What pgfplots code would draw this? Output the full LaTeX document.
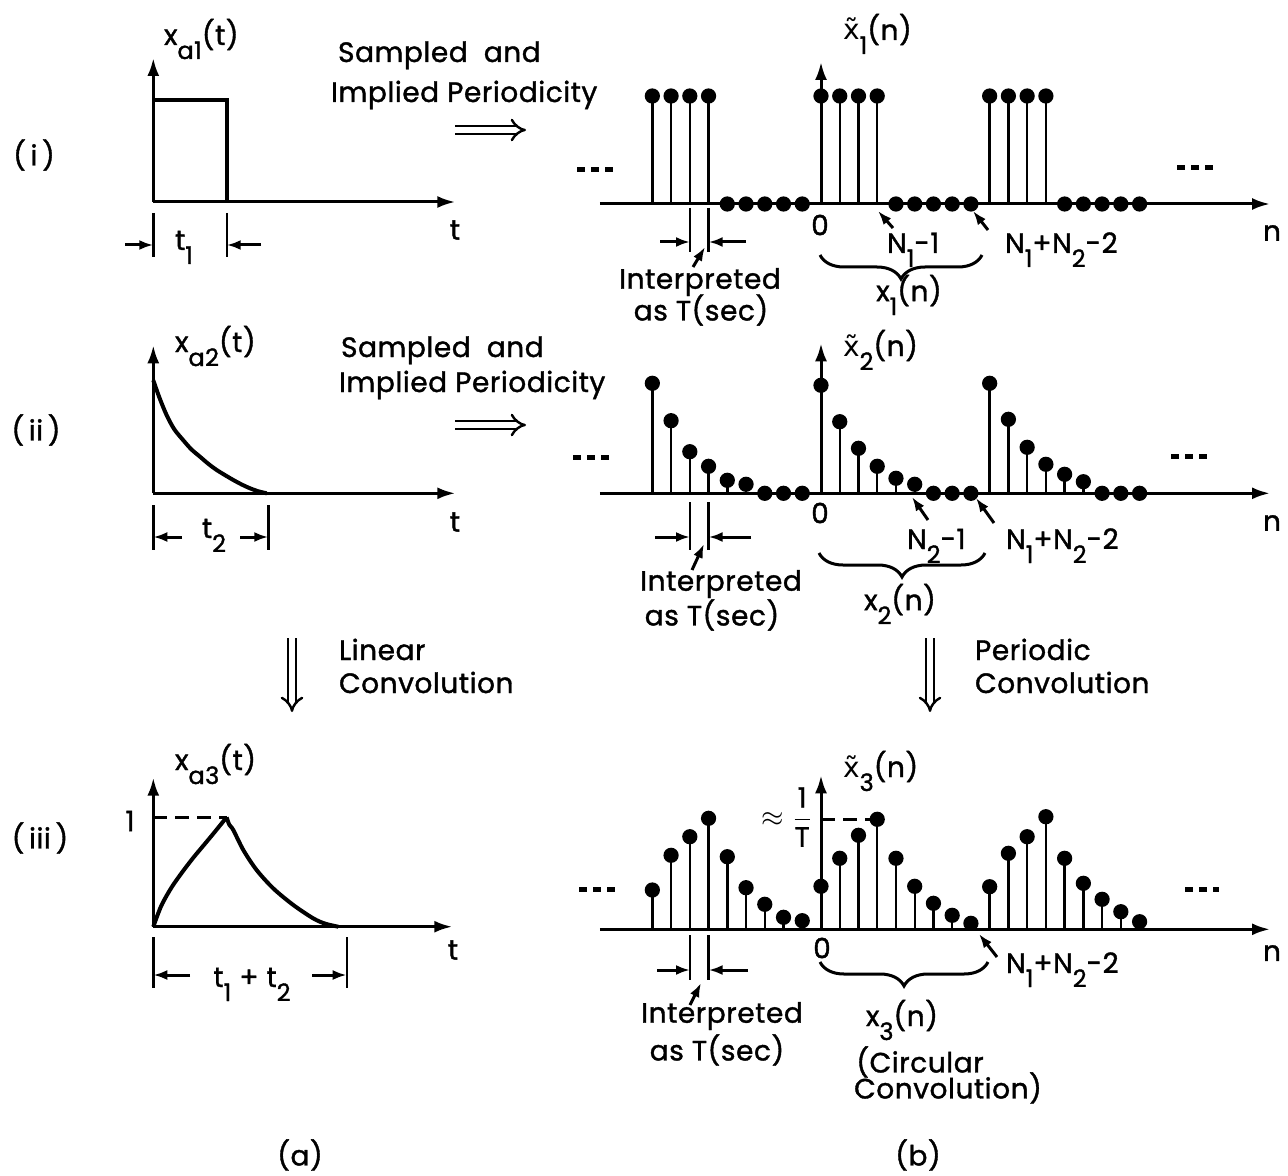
\documentclass[border=0pt]{standalone}
\usepackage{fontspec}
\setmainfont{Poppins}[UprightFeatures={FakeBold=1.3}, LetterSpace=2]
\newfontfamily\dejavu{DejaVu Sans}
\usepackage{pgfplots}
\pgfplotsset{compat=1.18}
\usetikzlibrary{arrows.meta,decorations.pathreplacing}

% lowered subscript, as in the lettering of the original
\newcommand\lo[1]{\raisebox{-0.5em}{\fontsize{12}{12}\selectfont #1}}
% x with a tilde (Poppins has no combining tilde, DejaVu Sans has)
\newcommand\xt{{\dejavu x^^^^0303}}

\pgfplotsset{
  sig/.style={
    axis lines=middle,
    anchor=south west,
    clip=false,
    xtick=\empty, ytick=\empty,
    axis line style={line width=1.5pt,-{Latex[length=9pt,width=6pt]}},
    y=0.5pt,
  },
  right sig/.style={sig, x=9.37pt, xmin=-11.8, xmax=23.96, ymin=0},
  left sig/.style={sig, x=0.5pt, xmin=0, ymin=0},
  stem/.style={ycomb, black, line width=1.2pt, mark=*, mark size=3.2pt,
    mark options={fill=black, solid}},
  curve/.style={black, line width=2pt, smooth, no marks},
}

\begin{document}
\begin{tikzpicture}[font=\fontsize{14}{16}\selectfont]
\useasboundingbox (0,0) rectangle (644pt,587.5pt);

% ---------- left column: analog signals ----------
\begin{axis}[left sig, at={(76.65pt,486.5pt)}, xmax=302, ymax=144]
  \addplot[black, line width=2pt, sharp plot] coordinates {(0,102) (73.4,102) (73.4,0)};
\end{axis}

\begin{axis}[left sig, at={(76.65pt,340.85pt)}, xmax=302, ymax=148]
  \addplot[curve] coordinates {
    (0,113) (6,96) (13.4,78) (21,64) (30,53) (38,44) (46.7,36.6) (55,29.5)
    (63.4,23.3) (72,18) (80,13.3) (88,9) (96.7,5) (105,2) (113.4,0)};
\end{axis}

\begin{axis}[left sig, at={(76.65pt,124.15pt)}, xmax=299, ymax=149]
  \addplot[curve] coordinates {
    (0,0) (4,11) (8,21) (13.3,31) (20,42) (30,56) (40,69) (50,81) (60,93)
    (73.3,109.4)};
  \addplot[curve] coordinates {
    (73.3,109.4) (76,102) (80,96.7) (90,76.7) (103.3,56.7) (120,38.3)
    (140,21.7) (160,8.3) (172,3) (185,0)};
  \addplot[black, line width=1.4pt, dash pattern=on 7pt off 4pt] coordinates {(0,109.4) (73.3,109.4)};
\end{axis}

% ---------- right column: periodic sequences ----------
\begin{axis}[right sig, at={(299.93pt,485.5pt)}, ymax=142]
  \addplot[stem] coordinates {
    (-9,108) (-8,108) (-7,108) (-6,108) (-5,0) (-4,0) (-3,0) (-2,0) (-1,0)
    (0,108) (1,108) (2,108) (3,108) (4,0) (5,0) (6,0) (7,0) (8,0)
    (9,108) (10,108) (11,108) (12,108) (13,0) (14,0) (15,0) (16,0) (17,0)};
\end{axis}

\begin{axis}[right sig, at={(299.93pt,340.85pt)}, ymax=150]
  \addplot[stem] coordinates {
    (-9,110) (-8,72.6) (-7,41.6) (-6,27) (-5,13) (-4,9) (-3,0) (-2,0) (-1,0)
    (0,108) (1,71.6) (2,45) (3,27) (4,15) (5,9) (6,0) (7,0) (8,0)
    (9,110) (10,74) (11,46) (12,29) (13,19) (14,11.6) (15,0) (16,0) (17,0)};
\end{axis}

\begin{axis}[right sig, at={(299.93pt,122.85pt)}, ymax=154]
  \addplot[stem] coordinates {
    (-9,39.3) (-8,74) (-7,92.6) (-6,111) (-5,72.6) (-4,41.6) (-3,25) (-2,12) (-1,8.6)
    (0,43) (1,71) (2,94) (3,110) (4,71) (5,43) (6,26) (7,14) (8,6)
    (9,42.6) (10,76) (11,92.6) (12,112.6) (13,71) (14,46) (15,30) (16,17.6) (17,7.6)};
  \addplot[black, line width=1.4pt, dash pattern=on 7pt off 4pt] coordinates {(0,110) (3,110)};
\end{axis}

% ---------- annotations, in pixel coordinates of the reference ----------
\begin{scope}[x=0.5pt, y=-0.5pt, shift={(0pt,587.5pt)},
  arr/.style={line width=1.5pt, -{Latex[length=7pt,width=5pt]}},
  dim/.style={line width=1.2pt},
  dots/.style={line width=2.5pt, dash pattern=on 4pt off 3pt},
  dbl/.style={line width=1.2pt, double, double distance=2.6pt, -{Implies}}]

  % row labels
  \node at (34,155) {(\,i\,)};
  \node at (36,430) {(\,ii\,)};
  \node at (40,838) {(\,iii\,)};

  % left: axis labels
  \node[anchor=base west] at (157,45) {x\lo{a1}(t)};
  \node[anchor=base west] at (168,352) {x\lo{a2}(t)};
  \node[anchor=base west] at (168,770) {x\lo{a3}(t)};
  \node at (455,230) {t};
  \node at (455,522) {t};
  \node at (453,950) {t};
  \node at (130,821) {1};

  % left: dimension marks
  \draw[dim] (153.3,213) -- (153.3,257) (226.7,213) -- (226.7,257);
  \draw[arr] (125,245) -- (153.3,245);
  \draw[arr] (261,245) -- (226.7,245);
  \node[anchor=base] at (184,250) {t\lo{1}};

  \draw[dim] (153.3,505) -- (153.3,550) (268.3,505) -- (268.3,550);
  \draw[arr] (182,537) -- (153.3,537);
  \draw[arr] (240,537) -- (268.3,537);
  \node[anchor=base] at (214,538) {t\lo{2}};

  \draw[dim] (153.3,937) -- (153.3,988) (346.7,937) -- (346.7,988);
  \draw[arr] (190,975) -- (153.3,975);
  \draw[arr] (312,975) -- (346.7,975);
  \node[anchor=base] at (252,987) {t\lo{1} + t\lo{2}};

  % sampling arrows
  \node[anchor=base west] at (331,62) {Sampled\ \ and};
  \node[anchor=base west] at (324,102) {Implied Periodicity};
  \draw[dbl] (455,130) -- (526,130);
  \node[anchor=base west] at (334,357) {Sampled\ \ and};
  \node[anchor=base west] at (332,392) {Implied Periodicity};
  \draw[dbl] (455,425) -- (526,425);

  % convolution arrows
  \draw[dbl] (292,638) -- (292,712);
  \node[anchor=base west] at (332,660) {Linear};
  \node[anchor=base west] at (332,693) {Convolution};
  \draw[dbl] (930,638) -- (930,712);
  \node[anchor=base west] at (968,660) {Periodic};
  \node[anchor=base west] at (968,693) {Convolution};

  % right: axis labels
  \node[anchor=base west] at (836,40) {\xt\lo{1}(n)};
  \node[anchor=base west] at (836,356) {\xt\lo{2}(n)};
  \node[anchor=base west] at (836,777) {\xt\lo{3}(n)};
  \foreach \yy in {233,523,953} \node at (1272,\yy) {n};
  \node at (820,225) {0};
  \node at (820,513) {0};
  \node at (822,948) {0};
  \node at (787,817) {$\approx\displaystyle\frac{\textrm{1}}{\textrm{T}}$};

  % continuation dots
  \draw[dots] (577,170) -- (615,170) (1177,168) -- (1215,168);
  \draw[dots] (573,457) -- (611,457) (1171,456) -- (1210,456);
  \draw[dots] (579,889) -- (617,889) (1185,889) -- (1219,889);

  % index pointers
  \draw[arr] (893,228) -- (878,211);
  \node[anchor=base west] at (880,253) {N\lo{1}-1};
  \draw[arr] (988,230) -- (973,211);
  \node[anchor=base west] at (998,253) {N\lo{1}+N\lo{2}-2};

  \draw[arr] (928,520) -- (912,497);
  \node[anchor=base west] at (900,549) {N\lo{2}-1};
  \draw[arr] (994,523) -- (976,498);
  \node[anchor=base west] at (999,549) {N\lo{1}+N\lo{2}-2};

  \draw[arr] (997,957) -- (979,934);
  \node[anchor=base west] at (999,973) {N\lo{1}+N\lo{2}-2};

  % braces
  \draw[line width=1.5pt, decorate, decoration={brace, mirror, amplitude=12pt}] (820,255) -- (982,255);
  \node at (909,295) {x\lo{1}(n)};
  \draw[line width=1.5pt, decorate, decoration={brace, mirror, amplitude=12pt}] (819,553) -- (985,553);
  \node at (900,604) {x\lo{2}(n)};
  \draw[line width=1.5pt, decorate, decoration={brace, mirror, amplitude=12pt}] (820,962) -- (988,962);
  \node at (902,1020) {x\lo{3}(n)};
  \node at (920,1062) {(Circular};
  \node at (948,1088) {Convolution)};

  % sampling interval marks
  \draw[dim] (690,208) -- (690,252) (708.6,208) -- (708.6,252);
  \draw[arr] (660,242) -- (690,242);
  \draw[arr] (746,242) -- (708.6,242);
  \draw[arr] (693,267) -- (705,247);
  \node at (700,282) {Interpreted};
  \node at (701,310) {as T(sec)};

  \draw[dim] (690,502) -- (690,550) (708.6,502) -- (708.6,550);
  \draw[arr] (655,537) -- (690,537);
  \draw[arr] (751,537) -- (708.6,537);
  \draw[arr] (692,570) -- (704,544);
  \node at (721,584) {Interpreted};
  \node at (712,615) {as T(sec)};

  \draw[dim] (690,935) -- (690,980) (708.6,935) -- (708.6,980);
  \draw[arr] (657,970) -- (690,970);
  \draw[arr] (748,970) -- (708.6,970);
  \draw[arr] (690,1005) -- (701,983);
  \node at (722,1016) {Interpreted};
  \node at (717,1050) {as T(sec)};

  % panel captions
  \node at (300,1155) {(a)};
  \node at (918,1155) {(b)};
\end{scope}
\end{tikzpicture}
\end{document}
